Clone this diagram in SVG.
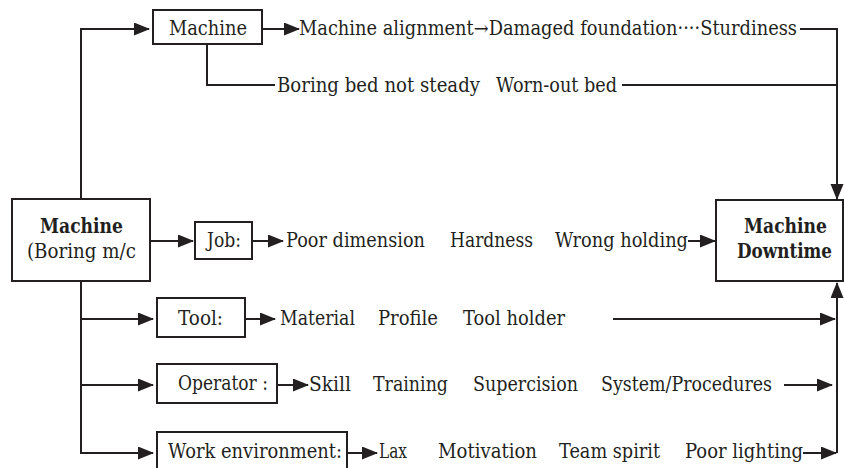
<svg xmlns="http://www.w3.org/2000/svg" width="844" height="468" viewBox="0 0 844 468">
<style>
text{font-family:"DejaVu Serif",serif;font-size:20px;fill:#231f20}
.b{font-weight:bold}
.box{fill:#fff;stroke:#231f20;stroke-width:2}
.ln{fill:none;stroke:#231f20;stroke-width:2}
</style>
<defs>
<marker id="ah" markerUnits="userSpaceOnUse" markerWidth="17" markerHeight="14" refX="15" refY="6.5" orient="auto">
<path d="M0,0 L16,6.5 L0,13 Z" fill="#231f20"/>
</marker>
</defs>
<rect width="844" height="468" fill="#fff"/>
<g id="connectors">
<path class="ln" d="M81,199 V29 H149" marker-end="url(#ah)"/>
<path class="ln" d="M262,29 H299" marker-end="url(#ah)"/>
<path class="ln" d="M207,44 V85 H275"/>
<path class="ln" d="M800,29 H837 V199" marker-end="url(#ah)"/>
<path class="ln" d="M622,85 H837"/>
<path class="ln" d="M150,241 H193" marker-end="url(#ah)"/>
<path class="ln" d="M252,241 H283" marker-end="url(#ah)"/>
<path class="ln" d="M688,241 H715" marker-end="url(#ah)"/>
<path class="ln" d="M81,281 V453 H153" marker-end="url(#ah)"/>
<path class="ln" d="M81,319 H153" marker-end="url(#ah)"/>
<path class="ln" d="M81,385 H153" marker-end="url(#ah)"/>
<path class="ln" d="M245,319 H275" marker-end="url(#ah)"/>
<path class="ln" d="M277,385 H308" marker-end="url(#ah)"/>
<path class="ln" d="M347,453 H377" marker-end="url(#ah)"/>
<path class="ln" d="M613,319 H835" marker-end="url(#ah)"/>
<path class="ln" d="M784,385 H832" marker-end="url(#ah)"/>
<path class="ln" d="M803,453 H836" marker-end="url(#ah)"/>
<path class="ln" d="M837,453 V283" marker-end="url(#ah)"/>
</g>
<g id="machine-top">
<rect class="box" x="153" y="10" width="109" height="34"/>
<text x="169" y="35" textLength="78" lengthAdjust="spacingAndGlyphs">Machine</text>
</g>
<g id="line-alignment">
<text x="299" y="35" textLength="498" lengthAdjust="spacingAndGlyphs">Machine alignment→Damaged foundation····Sturdiness</text>
</g>
<g id="line-bed">
<text x="277" y="92" textLength="203" lengthAdjust="spacingAndGlyphs">Boring bed not steady</text>
<text x="496" y="92" textLength="121" lengthAdjust="spacingAndGlyphs">Worn-out bed</text>
</g>
<g id="machine-main">
<rect class="box" x="12" y="199" width="138" height="82"/>
<text class="b" x="40" y="233" textLength="83" lengthAdjust="spacingAndGlyphs">Machine</text>
<text x="27" y="258" textLength="109" lengthAdjust="spacingAndGlyphs">(Boring m/c</text>
</g>
<g id="downtime">
<rect class="box" x="716" y="200" width="127" height="81"/>
<text class="b" x="744" y="233" textLength="83" lengthAdjust="spacingAndGlyphs">Machine</text>
<text class="b" x="737" y="258" textLength="95" lengthAdjust="spacingAndGlyphs">Downtime</text>
</g>
<g id="job">
<rect class="box" x="195" y="222" width="57" height="37"/>
<text x="207" y="247" textLength="34" lengthAdjust="spacingAndGlyphs">Job:</text>
<text x="286" y="247" textLength="139" lengthAdjust="spacingAndGlyphs">Poor dimension</text>
<text x="450" y="247" textLength="83" lengthAdjust="spacingAndGlyphs">Hardness</text>
<text x="555" y="247" textLength="133" lengthAdjust="spacingAndGlyphs">Wrong holding</text>
</g>
<g id="tool">
<rect class="box" x="157" y="298" width="88" height="39"/>
<text x="178" y="325" textLength="45" lengthAdjust="spacingAndGlyphs">Tool:</text>
<text x="280" y="325" textLength="75" lengthAdjust="spacingAndGlyphs">Material</text>
<text x="378" y="325" textLength="60" lengthAdjust="spacingAndGlyphs">Profile</text>
<text x="463" y="325" textLength="102" lengthAdjust="spacingAndGlyphs">Tool holder</text>
</g>
<g id="operator">
<rect class="box" x="157" y="364" width="120" height="39"/>
<text x="178" y="390" textLength="90" lengthAdjust="spacingAndGlyphs">Operator :</text>
<text x="309" y="391" textLength="42" lengthAdjust="spacingAndGlyphs">Skill</text>
<text x="373" y="391" textLength="75" lengthAdjust="spacingAndGlyphs">Training</text>
<text x="473" y="391" textLength="105" lengthAdjust="spacingAndGlyphs">Supercision</text>
<text x="601" y="391" textLength="171" lengthAdjust="spacingAndGlyphs">System/Procedures</text>
</g>
<g id="work-environment">
<rect class="box" x="157" y="432" width="190" height="40"/>
<text x="168" y="458" textLength="174" lengthAdjust="spacingAndGlyphs">Work environment:</text>
<text x="379" y="458" textLength="28" lengthAdjust="spacingAndGlyphs">Lax</text>
<text x="438" y="458" textLength="99" lengthAdjust="spacingAndGlyphs">Motivation</text>
<text x="559" y="458" textLength="101" lengthAdjust="spacingAndGlyphs">Team spirit</text>
<text x="685" y="458" textLength="118" lengthAdjust="spacingAndGlyphs">Poor lighting</text>
</g>
</svg>
